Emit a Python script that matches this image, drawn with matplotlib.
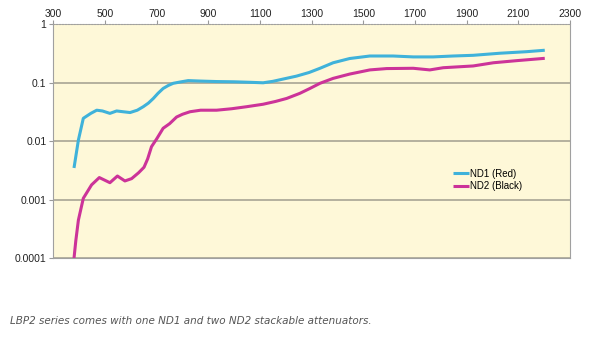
import matplotlib.pyplot as plt
from matplotlib.ticker import FixedLocator, NullLocator

# wavelength (nm) and transmission
nd1_x = [380, 397, 416, 445, 468, 490, 519, 545, 570, 597, 625, 648, 668, 687, 705, 725, 745,
         764, 790, 822, 870, 932, 1000, 1060, 1112, 1150, 1190, 1241, 1290, 1332, 1383, 1447,
         1525, 1615, 1693, 1770, 1847, 1925, 2028, 2131, 2202]
nd1_y = [0.0035, 0.0105, 0.0247, 0.030, 0.034, 0.033, 0.030, 0.033, 0.032, 0.031, 0.034, 0.039,
         0.045, 0.054, 0.066, 0.080, 0.090, 0.098, 0.103, 0.109, 0.107, 0.105, 0.104, 0.102,
         0.100, 0.106, 0.116, 0.130, 0.150, 0.177, 0.22, 0.26, 0.287, 0.287, 0.277, 0.277,
         0.287, 0.295, 0.32, 0.34, 0.36]

nd2_x = [380, 387, 397, 416, 448, 478, 519, 548, 577, 603, 630, 651, 665, 680, 700, 725, 750,
         777, 800, 829, 870, 932, 990, 1048, 1112, 1160, 1203, 1254, 1293, 1332, 1383, 1447,
         1525, 1590, 1693, 1757, 1809, 1925, 2003, 2093, 2202]
nd2_y = [0.0001, 0.0002, 0.00045, 0.00106, 0.0018, 0.0024, 0.00196, 0.00255, 0.0021, 0.0023,
         0.0029, 0.0036, 0.0050, 0.0081, 0.011, 0.0167, 0.020, 0.026, 0.029, 0.032, 0.034,
         0.034, 0.036, 0.039, 0.043, 0.048, 0.054, 0.066, 0.080, 0.098, 0.119, 0.141, 0.166,
         0.175, 0.177, 0.166, 0.181, 0.194, 0.22, 0.239, 0.262]

x_ticks = [300, 500, 700, 900, 1100, 1300, 1500, 1700, 1900, 2100, 2300]
y_ticks = [0.0001, 0.001, 0.01, 0.1, 1]
y_labels = ['0.0001', '0.001', '0.01', '0.1', '1']

fig = plt.figure(figsize=(6.13, 3.45), dpi=100)
ax = fig.add_axes([0.087, 0.2513, 0.843, 0.6783])
ax.set_facecolor('#fef8d8')

ax.plot(nd1_x, nd1_y, color='#3fb2da', lw=2.2, label='ND1 (Red)', solid_capstyle='butt')
ax.plot(nd2_x, nd2_y, color='#cc3399', lw=2.2, label='ND2 (Black)', solid_capstyle='butt')

ax.set_yscale('log')
ax.set_xlim(300, 2300)
ax.set_ylim(0.0001, 1)
ax.yaxis.set_major_locator(FixedLocator(y_ticks))
ax.yaxis.set_minor_locator(NullLocator())
ax.set_yticklabels(y_labels)
ax.set_xticks(x_ticks)
ax.xaxis.tick_top()
ax.tick_params(axis='x', length=3, color='#999999', pad=1, labelsize=7.5)
ax.tick_params(axis='y', length=3, color='#999999', pad=2, labelsize=7.5)
for lab in ax.get_xticklabels() + ax.get_yticklabels():
    lab.set_fontfamily('Liberation Sans')
    lab.set_color('#222222')

ax.grid(axis='y', color='#a8a494', lw=1.2)
ax.set_axisbelow(True)
for s in ['top', 'right', 'left', 'bottom']:
    ax.spines[s].set_color('#a0a0a0')
ax.spines['top'].set_linestyle(':')

leg = ax.legend(loc='upper left', bbox_to_anchor=(0.757, 0.42), frameon=False,
                handlelength=1.6, handletextpad=0.1, labelspacing=0.25,
                prop={'family': 'Liberation Sans', 'size': 7})

fig.text(0.017, 0.07, 'LBP2 series comes with one ND1 and two ND2 stackable attenuators.',
         fontsize=7.5, style='italic', color='#555555', ha='left', va='center')

fig.savefig('out.png', dpi=100)
